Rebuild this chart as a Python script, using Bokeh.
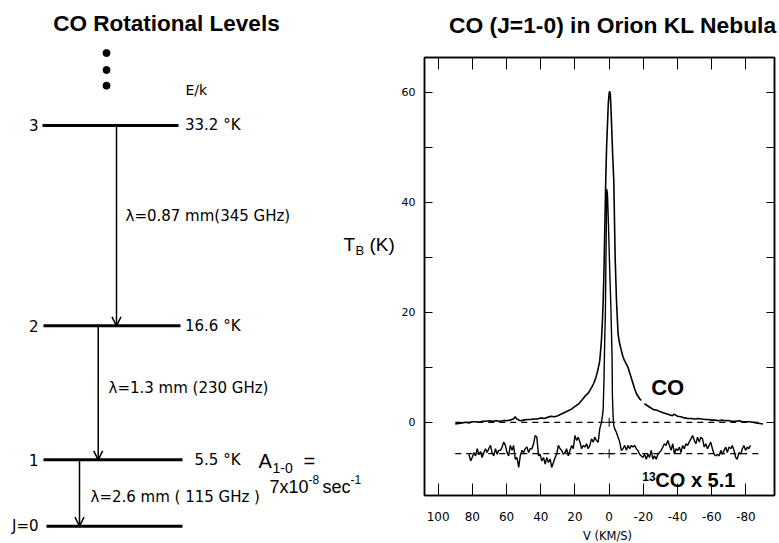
from bokeh.plotting import figure
from bokeh.layouts import row, column
from bokeh.models import Range1d, FixedTicker, LinearAxis, Arrow, OpenHead
from bokeh.core.properties import value
from bokeh.embed import file_html
from bokeh.resources import INLINE

nan = float("nan")

# ---------------- data: CO rotational ladder ----------------
level_E = [0.0, 5.5, 16.6, 33.2]                 # E/k (K) for J = 0..3
level_names = ["J=0", "1", "2", "3"]
level_E_text = ["5.5 °K", "16.6 °K", "33.2 °K"]   # for J = 1..3
trans_text = ["λ=2.6 mm ( 115 GHz )", "λ=1.3 mm (230 GHz)", "λ=0.87 mm(345 GHz)"]
dots_E = [39.2, 37.8, 36.5]

# ---------------- data: Orion KL spectrum ----------------
co_v = [90, 88, 86, 84, 82, 80, 78, 76, 74, 72, 70, 68, 66, 64, 62, 60, 58, 56, 55, 54,
        52, 50, 48, 46, 44, 42, 40, 38, 36, 34, 32, 30, 28, 26, 24, 22, 20, 18, 16, 14,
        12, 10, 9, 8, 7, 6, 5.5, 5, 4.5, 4, 3.5, 3, 2.5, 2, 1.5, 1, 0.5, 0, -0.3, -0.7,
        -1.2, -2, -2.7, -3.5, -4.3, -5.2, -6, -7, -8, -9, -10, -11, -12, -13, -14, -15,
        -16, -17, -18, -18.8, nan, -20.6, -22, -24, -26, -28, -30, -32, -34, -36, -37, -38,
        -39, -40, -42, -44, -46, -48, -50, -52, -54, -56, -58, -60, -62, -64, -66, -68,
        -70, -72, -74, -76, -78, -80, -82, -84, -86, -88, -90]
co_T = [-0.3, -0.2, -0.1, 0.0, -0.1, 0.1, 0.1, 0.0, 0.2, 0.2, 0.3, 0.2, 0.3, 0.2, 0.3, 0.3, 0.4, 0.6, 1.0, 0.6,
        0.3, 0.4, 0.5, 0.5, 0.6, 0.6, 0.8, 0.7, 0.9, 1.1, 1.0, 1.2, 1.5, 1.8, 2.1, 2.4, 2.9, 3.3, 4.0, 4.8,
        5.4, 6.5, 7.1, 7.9, 9.0, 10.4, 11.2, 13.0, 15.0, 18.0, 22.0, 28.0, 36.0, 44.0, 50.0, 54.0, 58.0, 59.8, 60.2, 59.5,
        56.0, 49.0, 44.0, 30.0, 22.0, 16.1, 14.5, 13.2, 12.0, 11.2, 10.6, 10.0, 9.0, 8.0, 7.0, 6.0,
        5.2, 4.7, 4.2, 4.0, nan, 3.4, 3.1, 2.7, 2.3, 2.2, 1.9, 1.7, 1.5, 1.3, 1.2, 1.5,
        1.3, 1.1, 1.0, 0.8, 0.7, 0.7, 0.6, 0.7, 0.6, 0.5, 0.5, 0.4, 0.4, 0.3, 0.4, 0.3,
        0.3, 0.2, 0.2, 0.3, 0.1, 0.1, 0.1, 0.0, -0.1, -0.2, -0.3]

c13_v = [82.0, 81.0, 80.1, 79.1, 78.1, 77.2, 76.2, 75.2, 74.3, 73.3, 72.3, 71.4, 70.4, 69.4, 68.5,
         67.5, 66.5, 65.5, 64.6, 63.6, 62.6, 61.7, 60.7, 59.7, 58.8, 57.8, 56.8, 55.9, 54.9, 53.9,
         52.9, 52.0, 51.0, 50.0, 49.1, 48.1, 47.1, 46.2, 45.2, 44.2, 43.3, 42.3, 41.3, 40.4, 39.4,
         38.4, 37.4, 36.5, 35.5, 34.5, 33.6, 32.6, 31.6, 30.7, 29.7, 28.7, 27.8, 26.8, 25.8, 24.9,
         23.9, 22.9, 21.9, 21.0, 20.0, 19.0, 18.1, 17.1, 16.1, 15.2, 14.2, 13.2, 12.3, 11.3, 10.3,
         9.3, 8.4, 7.4, 6.4, 5.5, 4.5, 3.9, 3.5, 3.0, 2.6, 2.2, 1.8, 1.4, 1.0, 0.6,
         -0.3, -1.0, -1.7, -1.9, -2.3, -2.7, -3.3, -4.2, -5.2, -6.2, -7.1, -8.1, -9.1, -10.1, -11.0,
         -12.0, -13.0, -13.9, -14.9, -15.9, -16.8, -17.8, -18.8, -19.7, -20.7, -21.7, -22.7, -23.6, -24.6, -25.6,
         -26.5, -27.5, -28.5, -29.4, -30.4, -31.4, -32.3, -33.3, -34.3, -35.3, -36.2, -37.2, -38.2, -39.1, -40.1,
         -41.1, -42.0, -43.0, -43.9, -44.9, -45.9, -46.8, -47.8, -48.8, -49.8, -50.7, -51.7, -52.7, -53.6, -54.6,
         -55.6, -56.5, -57.5, -58.5, -59.4, -60.4, -61.4, -62.3, -63.3, -64.3, -65.3, -66.2, -67.2, -68.2, -69.1,
         -70.1, -71.1, -72.0, -73.0, -74.0, -74.9, -75.9, -76.9, -77.9, -78.8, -79.8, -80.8, -81.7, -82.7]
c13_T = [-5.8, -7.0, -6.4, -5.5, -6.1, -4.8, -5.9, -5.3, -6.4, -5.5, -4.8, -5.5, -4.8, -4.2, -5.5,
         -6.1, -4.8, -5.8, -5.1, -5.1, -4.5, -3.6, -4.2, -5.5, -6.1, -4.2, -5.1, -4.2, -6.7, -6.4,
         -8.2, -6.1, -5.1, -5.5, -4.8, -4.5, -5.5, -4.8, -4.8, -3.9, -2.4, -2.7, -6.1, -5.8, -7.0,
         -6.4, -7.6, -6.4, -7.3, -6.7, -8.2, -7.3, -6.4, -5.8, -4.2, -4.8, -5.1, -5.8, -5.5, -4.8,
         -6.1, -5.1, -4.2, -4.8, -2.4, -3.3, -2.7, -3.6, -4.8, -4.2, -4.5, -3.9, -4.8, -4.2, -3.0,
         -3.6, -2.7, -3.3, -3.6, -1.2, 0.0, 1.2, 2.4, 8.0, 15.0, 20.0, 32.0, 42.4, 41.5, 38.0,
         28.0, 21.0, 12.0, 4.8, 1.2, -0.6, -1.2, -1.8, -2.7, -3.6, -5.1, -4.8, -4.2, -5.1, -4.2,
         -4.8, -4.2, -4.5, -4.2, -4.8, -5.1, -5.8, -6.1, -6.4, -5.8, -6.7, -5.8, -6.4, -5.1, -6.7,
         -6.1, -6.7, -5.8, -5.5, -5.1, -4.5, -3.9, -4.2, -3.3, -4.2, -5.1, -3.9, -5.8, -4.8, -5.1,
         -4.5, -5.5, -4.2, -4.8, -3.9, -4.2, -3.6, -3.0, -2.4, -3.3, -3.9, -2.7, -3.6, -2.7, -3.0,
         -4.5, -3.9, -4.8, -4.2, -3.6, -4.8, -5.8, -6.1, -5.8, -6.1, -5.1, -5.8, -5.1, -4.5, -5.5,
         -4.5, -4.8, -4.2, -5.1, -6.4, -6.7, -5.5, -5.8, -4.8, -4.2, -5.1, -4.5, -4.8, -4.2]

co_base = 0.0
c13_base = -5.7
base_v = [90, -90]
c13_base_v = [90, -88]

x_ticks = [100, 80, 60, 40, 20, 0, -20, -40, -60, -80]
x_tick_labels = ["100", "80", "60", "40", "20", "0", "-20", "-40", "-60", "-80"]
y_ticks = [0, 20, 40, 60]
y_minor = [10, 30, 50]

# ---------------- layout constants (pixels) ----------------
H = 543
W_L = 398          # left panel width
W_R = 779 - W_L    # right column width
H_TOP = 45         # strip holding the right-hand title
H_BOT = 18         # strip holding the x-axis caption
H_MID = H - H_TOP - H_BOT

SANS = value("Liberation Sans")
LETT = value("DejaVu Sans")


def strip(w, h):
    f = figure(width=w, height=h, x_range=Range1d(0, w), y_range=Range1d(h, 0),
               output_backend="svg", toolbar_location=None, title=None,
               x_axis_location=None, y_axis_location=None, min_border=0)
    f.frame_align = False
    f.grid.visible = False
    f.outline_line_color = None
    return f


# ---------------- left panel: level diagram ----------------
SC = 12.07      # pixels per kelvin in the ladder
Y0 = 525.7      # pixel row of E = 0


def ey(px):
    return (Y0 - px) / SC


pl = figure(width=W_L, height=H, x_range=Range1d(0, W_L), y_range=Range1d(ey(H), ey(0)),
            output_backend="svg", toolbar_location=None, title=None,
            x_axis_location=None, y_axis_location=None, min_border=0)
pl.frame_align = False
pl.grid.visible = False
pl.outline_line_color = None

pl.text(x=[166], y=[ey(23)], text=["CO Rotational Levels"], text_font=SANS,
        text_font_style="bold", text_font_size="22.5px", text_align="center", text_baseline="middle")

pl.segment(x0=[46, 43, 43, 42], y0=level_E, x1=[182, 182, 180, 178], y1=level_E,
           line_width=3, line_color="black")
pl.scatter(x=[106] * 3, y=dots_E, size=7, color="black")

pl.text(x=[38] * 4, y=level_E, text=level_names, text_font=LETT, text_font_size="15px",
        text_align="right", text_baseline="middle")
pl.text(x=[240] * 3, y=level_E[1:], text=level_E_text, text_font=LETT, text_font_size="15px",
        text_align="right", text_baseline="middle")
pl.text(x=[185], y=[ey(89)], text=["E/k"], text_font=LETT, text_font_size="14px",
        text_align="left", text_baseline="middle")

arrow_x = [79, 97.7, 116]
for i in range(3):
    pl.add_layout(Arrow(end=OpenHead(size=9, line_width=1.5, line_color="black"),
                        x_start=arrow_x[i], y_start=level_E[i + 1],
                        x_end=arrow_x[i], y_end=level_E[i], line_width=1.5, line_color="black"))
pl.text(x=[90, 108, 125], y=[ey(496), ey(387), ey(215)], text=trans_text, text_font=LETT,
        text_font_size="15px", text_align="left", text_baseline="middle")

# Einstein A
pl.text(x=[258], y=[ey(460)], text=["A"], text_font=SANS, text_font_size="20px",
        text_align="left", text_baseline="middle")
pl.text(x=[272], y=[ey(467)], text=["1-0"], text_font=SANS, text_font_size="14px",
        text_align="left", text_baseline="middle")
pl.text(x=[303], y=[ey(460)], text=["="], text_font=SANS, text_font_size="20px",
        text_align="left", text_baseline="middle")
pl.text(x=[269], y=[ey(486)], text=["7x10"], text_font=SANS, text_font_size="18px",
        text_align="left", text_baseline="middle")
pl.text(x=[308], y=[ey(479)], text=["-8"], text_font=SANS, text_font_size="12px",
        text_align="left", text_baseline="middle")
pl.text(x=[322], y=[ey(486)], text=["sec"], text_font=SANS, text_font_size="18px",
        text_align="left", text_baseline="middle")
pl.text(x=[350], y=[ey(479)], text=["-1"], text_font=SANS, text_font_size="12px",
        text_align="left", text_baseline="middle")

# T_B (K) axis caption (sits left of the spectrum panel)
pl.text(x=[343], y=[ey(243.5)], text=["T"], text_font=SANS, text_font_size="19px",
        text_align="left", text_baseline="middle")
pl.text(x=[355], y=[ey(250)], text=["B"], text_font=SANS, text_font_size="13px",
        text_align="left", text_baseline="middle")
pl.text(x=[369], y=[ey(243.5)], text=["(K)"], text_font=SANS, text_font_size="19px",
        text_align="left", text_baseline="middle")

# ---------------- right column: title strip ----------------
pt = strip(W_R, H_TOP)
pt.text(x=[W_R - 3], y=[24], text=["CO (J=1-0) in Orion KL Nebula"], text_font=SANS,
        text_font_style="bold", text_font_size="22.8px", text_align="right", text_baseline="middle")

# ---------------- right column: spectrum ----------------
pr = figure(width=W_R, height=H_MID, x_range=Range1d(108, -96.7), y_range=Range1d(-13.3, 66.3),
            output_backend="svg", toolbar_location=None, title=None,
            min_border_left=24, min_border_right=5, min_border_top=57 - H_TOP,
            min_border_bottom=(H - H_BOT) - 495)
pr.frame_align = False
pr.grid.visible = False
pr.outline_line_color = "black"
pr.outline_line_width = 1.5

xa = pr.xaxis[0]
xa.ticker = FixedTicker(ticks=x_ticks)
xa.major_label_overrides = {t: s for t, s in zip(x_ticks, x_tick_labels)}
xa.major_tick_in = 12
xa.major_tick_out = 0
xa.minor_tick_line_color = None
xa.major_label_standoff = 16
xa.major_label_text_font = "DejaVu Sans"
xa.major_label_text_font_size = "12px"
xa.major_label_text_color = "black"
xa.axis_line_width = 1.5

ya = pr.yaxis[0]
ya.ticker = FixedTicker(ticks=y_ticks, minor_ticks=y_minor)
ya.major_tick_in = 8
ya.major_tick_out = 0
ya.minor_tick_in = 8
ya.minor_tick_out = 0
ya.major_label_standoff = 9
ya.major_label_text_font = "DejaVu Sans"
ya.major_label_text_font_size = "11px"
ya.major_label_text_color = "black"
ya.axis_line_width = 1.5

# tick marks on the top and right edges (no labels there)
pr.add_layout(LinearAxis(ticker=FixedTicker(ticks=x_ticks), major_tick_in=12, major_tick_out=0,
                         minor_tick_line_color=None, major_label_text_font_size="1px",
                         major_label_text_color=None, major_label_standoff=0,
                         axis_line_width=1.5), "above")
pr.add_layout(LinearAxis(ticker=FixedTicker(ticks=y_ticks, minor_ticks=y_minor), major_tick_in=8,
                         major_tick_out=0, minor_tick_in=8, minor_tick_out=0,
                         major_label_text_font_size="1px", major_label_text_color=None,
                         major_label_standoff=0, axis_line_width=1.5), "right")

pr.line(base_v, [co_base] * 2, line_color="black", line_width=1.3, line_dash="6 5")
pr.line(c13_base_v, [c13_base] * 2, line_color="black", line_width=1.3, line_dash="6 5")
pr.scatter(x=[0, 0], y=[co_base, c13_base], marker="cross", size=9, line_color="black", line_width=1)

pr.line(co_v, co_T, line_color="black", line_width=1.6)
pr.line(c13_v, c13_T, line_color="black", line_width=1.4)

pr.text(x=[-24.6], y=[6.3], text=["CO"], text_font=SANS, text_font_style="bold",
        text_font_size="22px", text_align="left", text_baseline="middle")
pr.text(x=[-19.4], y=[-9.8], text=["13"], text_font=SANS, text_font_style="bold",
        text_font_size="12px", text_align="left", text_baseline="middle")
pr.text(x=[-27.0], y=[-10.4], text=["CO x 5.1"], text_font=SANS, text_font_style="bold",
        text_font_size="20px", text_align="left", text_baseline="middle")

# ---------------- right column: x-axis caption strip ----------------
pb = strip(W_R, H_BOT)
pb.text(x=[607 - W_L], y=[535 - (H - H_BOT)], text=["V (KM/S)"], text_font=LETT,
        text_font_size="11.5px", text_align="center", text_baseline="middle")

layout = row(pl, column(pt, pr, pb))
open("out.html", "w").write(file_html(layout, INLINE))
